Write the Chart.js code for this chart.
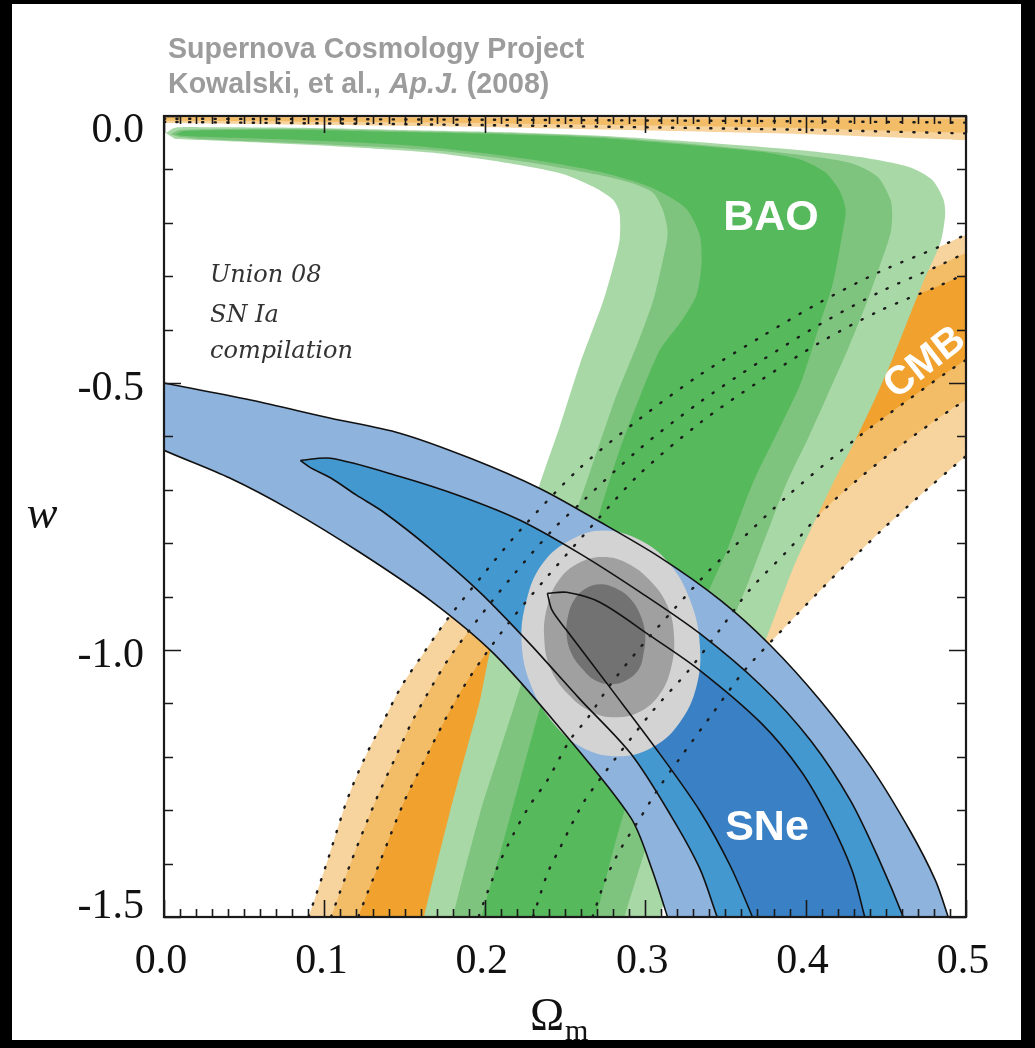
<!DOCTYPE html>
<html>
<head>
<meta charset="utf-8">
<title>Supernova Cosmology Project – Union 08 constraints on w and Ωm</title>
<script src="https://cdn.jsdelivr.net/npm/chart.js@4.4.1/dist/chart.umd.min.js"></script>
<style>
  html, body { margin: 0; padding: 0; background: #000; }
  #paper { position: absolute; left: 12px; top: 4px; width: 1009px; height: 1036px; background: #fff; }
  #chart { position: absolute; left: 0; top: 0; }
</style>
</head>
<body>
<div id="paper"></div>
<canvas id="chart" width="1035" height="1048"></canvas>
<script>
// ---- Axis ticks ----
const xTicks = [0.0, 0.1, 0.2, 0.3, 0.4, 0.5];
const xTickLabels = ['0.0', '0.1', '0.2', '0.3', '0.4', '0.5'];
const yTicks = [0.0, -0.5, -1.0, -1.5];
const yTickLabels = ['0.0', '-0.5', '-1.0', '-1.5'];

// ---- CMB: thin branch along w ~ 0 ----
const cmbTopOuter = [[-0.02,0.02],[0.52,0.02],[0.52,-0.047],[0.5,-0.045],[0.4,-0.034],[0.3,-0.027],[0.2,-0.021],[0.1,-0.017],[0.0,-0.013],[-0.02,-0.012]];
const cmbTopMiddle = [[-0.02,-0.002],[0.1,-0.003],[0.3,-0.005],[0.52,-0.007],[0.52,-0.031],[0.4,-0.023],[0.3,-0.018],[0.2,-0.014],[0.1,-0.011],[0.0,-0.009],[-0.02,-0.008]];
const cmbTopEdgeA = [[0.0,-0.005],[0.2,-0.007],[0.4,-0.010],[0.52,-0.013]];
const cmbTopEdgeB = [[0.0,-0.011],[0.2,-0.017],[0.4,-0.026],[0.52,-0.034]];

// ---- CMB degeneracy band: upper-left edges (99.7%, 95%, 68%) ----
const cmbL3 = [[0.085,-1.544],[0.090,-1.501],[0.102,-1.394],[0.114,-1.282],[0.125,-1.203],[0.137,-1.132],[0.148,-1.068],[0.160,-1.014],[0.176,-0.945],[0.197,-0.866],[0.222,-0.776],[0.259,-0.660],[0.297,-0.566],[0.334,-0.485],[0.372,-0.414],[0.409,-0.349],[0.446,-0.292],[0.484,-0.244],[0.501,-0.221],[0.515,-0.206]];
const cmbL2 = [[0.099,-1.544],[0.104,-1.501],[0.117,-1.394],[0.132,-1.282],[0.144,-1.203],[0.155,-1.132],[0.167,-1.068],[0.178,-1.014],[0.195,-0.945],[0.216,-0.866],[0.242,-0.776],[0.259,-0.727],[0.297,-0.622],[0.334,-0.536],[0.372,-0.459],[0.409,-0.390],[0.446,-0.330],[0.484,-0.279],[0.501,-0.255],[0.515,-0.240]];
const cmbL1 = [[0.117,-1.544],[0.121,-1.501],[0.135,-1.394],[0.150,-1.282],[0.163,-1.203],[0.175,-1.132],[0.187,-1.068],[0.199,-1.014],[0.216,-0.945],[0.238,-0.866],[0.272,-0.750],[0.297,-0.669],[0.334,-0.575],[0.372,-0.495],[0.409,-0.424],[0.446,-0.365],[0.484,-0.317],[0.501,-0.294],[0.515,-0.279]];
// ---- CMB band: lower-right edges (68%, 95%, 99.7%) ----
const cmbR1 = [[0.192,-1.544],[0.196,-1.501],[0.207,-1.413],[0.218,-1.344],[0.228,-1.291],[0.239,-1.244],[0.253,-1.169],[0.264,-1.128],[0.278,-1.066],[0.297,-0.995],[0.319,-0.920],[0.340,-0.851],[0.353,-0.813],[0.390,-0.708],[0.432,-0.603],[0.461,-0.538],[0.490,-0.476],[0.500,-0.457],[0.515,-0.431]];
const cmbR2 = [[0.225,-1.544],[0.230,-1.501],[0.239,-1.419],[0.247,-1.370],[0.261,-1.288],[0.272,-1.241],[0.282,-1.201],[0.305,-1.113],[0.328,-1.035],[0.347,-0.960],[0.365,-0.888],[0.390,-0.810],[0.410,-0.742],[0.432,-0.682],[0.461,-0.613],[0.490,-0.551],[0.500,-0.532],[0.515,-0.506]];
const cmbR3 = [[0.262,-1.544],[0.267,-1.501],[0.275,-1.432],[0.284,-1.376],[0.297,-1.314],[0.309,-1.256],[0.322,-1.201],[0.342,-1.119],[0.362,-1.038],[0.390,-0.948],[0.417,-0.864],[0.434,-0.815],[0.448,-0.774],[0.463,-0.733],[0.478,-0.693],[0.490,-0.662],[0.500,-0.637],[0.515,-0.607]];

// ---- BAO contours (99.7%, 95%, 68%) ----
const baoOuter = [[0.001,-0.032],[0.007,-0.022],[0.022,-0.021],[0.085,-0.022],[0.147,-0.026],[0.210,-0.030],[0.272,-0.037],[0.334,-0.049],[0.397,-0.064],[0.434,-0.077],[0.465,-0.096],[0.479,-0.120],[0.486,-0.157],[0.487,-0.186],[0.484,-0.238],[0.473,-0.313],[0.463,-0.388],[0.453,-0.463],[0.442,-0.538],[0.430,-0.613],[0.417,-0.688],[0.405,-0.763],[0.393,-0.841],[0.381,-0.935],[0.369,-1.029],[0.356,-1.123],[0.344,-1.216],[0.331,-1.310],[0.319,-1.404],[0.309,-1.501],[0.303,-1.582],
  [0.157,-1.582],[0.162,-1.501],[0.178,-1.306],[0.189,-1.183],[0.197,-1.094],[0.203,-1.006],[0.213,-0.907],[0.222,-0.813],[0.234,-0.692],[0.247,-0.579],[0.259,-0.467],[0.274,-0.345],[0.280,-0.283],[0.284,-0.232],[0.284,-0.182],[0.280,-0.157],[0.268,-0.133],[0.247,-0.107],[0.210,-0.086],[0.168,-0.069],[0.147,-0.064],[0.104,-0.056],[0.054,-0.049],[0.007,-0.043]];
const baoMiddle = [[0.004,-0.034],[0.010,-0.026],[0.085,-0.024],[0.147,-0.028],[0.210,-0.032],[0.272,-0.039],[0.334,-0.054],[0.397,-0.073],[0.428,-0.088],[0.445,-0.114],[0.453,-0.157],[0.454,-0.186],[0.453,-0.219],[0.446,-0.283],[0.438,-0.350],[0.426,-0.439],[0.413,-0.527],[0.401,-0.607],[0.388,-0.688],[0.376,-0.781],[0.364,-0.875],[0.351,-0.969],[0.339,-1.063],[0.326,-1.156],[0.314,-1.250],[0.303,-1.347],[0.294,-1.432],[0.287,-1.501],[0.281,-1.582],
  [0.175,-1.582],[0.180,-1.501],[0.197,-1.306],[0.208,-1.201],[0.218,-1.108],[0.226,-1.033],[0.238,-0.926],[0.250,-0.804],[0.266,-0.663],[0.281,-0.532],[0.296,-0.420],[0.305,-0.345],[0.311,-0.270],[0.314,-0.219],[0.311,-0.176],[0.305,-0.144],[0.292,-0.126],[0.272,-0.111],[0.230,-0.088],[0.178,-0.067],[0.147,-0.060],[0.085,-0.051],[0.022,-0.043],[0.009,-0.039]];
const baoInner = [[0.007,-0.034],[0.013,-0.028],[0.085,-0.026],[0.147,-0.030],[0.210,-0.034],[0.272,-0.041],[0.334,-0.056],[0.372,-0.067],[0.397,-0.082],[0.412,-0.105],[0.421,-0.139],[0.425,-0.176],[0.423,-0.219],[0.417,-0.313],[0.409,-0.388],[0.397,-0.500],[0.384,-0.583],[0.367,-0.688],[0.351,-0.813],[0.337,-0.907],[0.325,-1.001],[0.312,-1.094],[0.300,-1.188],[0.289,-1.282],[0.280,-1.376],[0.272,-1.469],[0.269,-1.501],[0.263,-1.582],
  [0.194,-1.582],[0.198,-1.501],[0.210,-1.376],[0.222,-1.244],[0.234,-1.113],[0.247,-0.982],[0.259,-0.860],[0.272,-0.738],[0.284,-0.626],[0.297,-0.523],[0.309,-0.439],[0.323,-0.382],[0.332,-0.335],[0.335,-0.279],[0.334,-0.223],[0.325,-0.172],[0.303,-0.133],[0.272,-0.105],[0.230,-0.082],[0.189,-0.066],[0.147,-0.054],[0.085,-0.045],[0.022,-0.039],[0.011,-0.037]];

// ---- SNe Ia contours: upper (U) and lower (D) edges ----
const sneU3 = [[-0.015,-0.491],[0.000,-0.500],[0.054,-0.532],[0.104,-0.566],[0.147,-0.594],[0.191,-0.641],[0.234,-0.697],[0.270,-0.757],[0.309,-0.826],[0.347,-0.907],[0.378,-0.991],[0.409,-1.094],[0.440,-1.216],[0.465,-1.338],[0.481,-1.432],[0.489,-1.501],[0.496,-1.563]];
const sneD3 = [[-0.015,-0.603],[0.000,-0.626],[0.041,-0.678],[0.079,-0.738],[0.122,-0.817],[0.166,-0.907],[0.205,-1.005],[0.247,-1.147],[0.291,-1.314],[0.304,-1.409],[0.314,-1.501],[0.320,-1.563]];
const sneU2 = [[0.085,-0.645],[0.104,-0.641],[0.147,-0.675],[0.185,-0.712],[0.222,-0.757],[0.259,-0.819],[0.297,-0.892],[0.334,-0.969],[0.372,-1.066],[0.403,-1.169],[0.428,-1.282],[0.446,-1.394],[0.461,-1.501],[0.468,-1.563]];
const sneD2 = [[0.091,-0.658],[0.104,-0.678],[0.120,-0.710],[0.137,-0.742],[0.166,-0.810],[0.197,-0.892],[0.228,-0.988],[0.259,-1.091],[0.291,-1.194],[0.316,-1.310],[0.334,-1.409],[0.345,-1.501],[0.353,-1.563]];
const sneU1 = [[0.239,-0.894],[0.251,-0.892],[0.272,-0.911],[0.303,-0.973],[0.334,-1.038],[0.372,-1.136],[0.397,-1.226],[0.415,-1.319],[0.429,-1.413],[0.437,-1.501],[0.443,-1.563]];
const sneD1 = [[0.242,-0.926],[0.251,-0.963],[0.278,-1.070],[0.309,-1.194],[0.334,-1.301],[0.353,-1.404],[0.367,-1.501],[0.375,-1.563]];

// ---- Combined SNe + BAO + CMB contours ----
const combOuter = [[0.274,-0.776],[0.296,-0.793],[0.315,-0.838],[0.328,-0.907],[0.334,-0.988],[0.332,-1.068],[0.321,-1.138],[0.304,-1.183],[0.283,-1.199],[0.261,-1.183],[0.243,-1.138],[0.229,-1.068],[0.223,-0.988],[0.226,-0.907],[0.236,-0.838],[0.254,-0.793]];
const combMiddle = [[0.274,-0.826],[0.289,-0.838],[0.303,-0.870],[0.314,-0.918],[0.318,-0.976],[0.316,-1.035],[0.309,-1.083],[0.297,-1.115],[0.281,-1.126],[0.266,-1.115],[0.252,-1.083],[0.241,-1.035],[0.237,-0.976],[0.239,-0.918],[0.246,-0.870],[0.258,-0.838]];
const combInner = [[0.272,-0.877],[0.282,-0.885],[0.291,-0.905],[0.297,-0.935],[0.300,-0.971],[0.299,-1.006],[0.296,-1.036],[0.288,-1.057],[0.279,-1.064],[0.269,-1.057],[0.261,-1.036],[0.254,-1.006],[0.251,-0.971],[0.252,-0.935],[0.256,-0.905],[0.263,-0.885]];

// ---- helpers to turn the lists into Chart.js datasets ----
const pts = a => a.map(p => ({x: p[0], y: p[1]}));
const band = (upper, lower) => upper.concat(lower.slice().reverse());
const ring = a => a.concat(a.slice(0, 3));

function area(points, color, tension) {
  return { data: pts(points), showLine: true, fill: 'shape', backgroundColor: color,
           borderWidth: 0, borderColor: 'rgba(0,0,0,0)', pointRadius: 0, tension: tension, clip: 0 };
}
function solid(points) {
  return { data: pts(points), showLine: true, fill: false, borderColor: '#111', borderWidth: 1.6,
           pointRadius: 0, tension: 0.3, clip: 0 };
}
function dotted(points) {
  return { data: pts(points), showLine: true, fill: false, borderColor: '#1c1c1c', borderWidth: 2.4,
           borderDash: [1.2, 11.5], borderCapStyle: 'round', pointRadius: 0, tension: 0.3, clip: 0 };
}

const layers = [
  area(cmbTopOuter, '#F7D39E', 0.2),
  area(cmbTopMiddle, '#F3BC67', 0.2),
  area(band(cmbL3, cmbR3), '#F7D39E', 0.3),
  area(band(cmbL2, cmbR2), '#F3BC67', 0.3),
  area(band(cmbL1, cmbR1), '#F0A12E', 0.3),
  area(baoOuter, '#A9D8A7', 0.25),
  area(baoMiddle, '#7EC47E', 0.25),
  area(baoInner, '#56B95C', 0.25),
  area(band(sneU3, sneD3), '#8EB3DD', 0.3),
  area(band(sneU2, sneD2), '#4498D0', 0.3),
  area(band(sneU1, sneD1), '#3A80C5', 0.3),
  area(ring(combOuter), '#D3D3D3', 0.4),
  area(ring(combMiddle), '#A0A0A0', 0.4),
  area(ring(combInner), '#727272', 0.4),
  solid(sneU3), solid(sneD3),
  solid(band(sneU2, sneD2).concat([sneU2[0]])),
  solid(band(sneU1, sneD1).concat([sneU1[0]])),
  dotted(cmbL3), dotted(cmbL2), dotted(cmbL1),
  dotted(cmbR1), dotted(cmbR2), dotted(cmbR3),
  dotted(cmbTopEdgeA), dotted(cmbTopEdgeB)
];
// later layers are drawn on top
layers.forEach((d, i) => { d.order = layers.length - i; });

const SERIF = '"Liberation Serif", "Times New Roman", serif';
const SANS = '"Liberation Sans", Arial, sans-serif';

const decorations = {
  id: 'decorations',
  afterDraw(chart) {
    const {ctx, chartArea: a, scales: {x, y}} = chart;
    ctx.save();

    // inward ticks on all four sides
    ctx.strokeStyle = '#1a1a1a';
    ctx.lineWidth = 1.6;
    ctx.beginPath();
    for (let i = 0; i <= 50; i++) {
      const px = Math.round(x.getPixelForValue(i / 100)) + 0.5;
      const len = i % 10 === 0 ? 17 : 8;
      ctx.moveTo(px, a.bottom); ctx.lineTo(px, a.bottom - len);
      ctx.moveTo(px, a.top); ctx.lineTo(px, a.top + len);
    }
    for (let i = 0; i <= 15; i++) {
      const py = Math.round(y.getPixelForValue(-i / 10)) + 0.5;
      const len = i % 5 === 0 ? 17 : 9;
      ctx.moveTo(a.left, py); ctx.lineTo(a.left + len, py);
      ctx.moveTo(a.right, py); ctx.lineTo(a.right - len, py);
    }
    ctx.stroke();
    ctx.lineWidth = 2.2;
    ctx.strokeRect(a.left, a.top, a.right - a.left, a.bottom - a.top);

    // tick labels
    ctx.fillStyle = '#111';
    ctx.font = '42px ' + SERIF;
    ctx.textBaseline = 'alphabetic';
    ctx.textAlign = 'right';
    yTicks.forEach((v, i) => {
      let cy = y.getPixelForValue(v) + 3;
      cy = Math.min(Math.max(cy, a.top + 12), a.bottom - 13);
      ctx.fillText(yTickLabels[i], 144, cy + 14);
    });
    ctx.textAlign = 'center';
    xTicks.forEach((v, i) => {
      ctx.fillText(xTickLabels[i], x.getPixelForValue(v) - 3, 973);
    });

    // axis titles
    ctx.font = 'italic 46px ' + SERIF;
    ctx.fillText('w', 42, 528);
    ctx.font = '46px ' + SERIF;
    ctx.textAlign = 'left';
    ctx.fillText('Ω', 530, 1030);
    ctx.font = '30px ' + SERIF;
    ctx.fillText('m', 565, 1040);

    // header
    ctx.fillStyle = '#9c9c9c';
    ctx.font = 'bold 28.6px ' + SANS;
    ctx.fillText('Supernova Cosmology Project', 168, 58);
    let cx = 168;
    const part = (txt, font) => { ctx.font = font; ctx.fillText(txt, cx, 93); cx += ctx.measureText(txt).width; };
    part('Kowalski, et al., ', 'bold 28.6px ' + SANS);
    part('Ap.J.', 'italic bold 28.6px ' + SANS);
    part(' (2008)', 'bold 28.6px ' + SANS);

    // data-set captions
    ctx.fillStyle = '#fff';
    ctx.font = 'bold 43px ' + SANS;
    ctx.textAlign = 'center';
    ctx.textBaseline = 'middle';
    ctx.fillText('BAO', 771, 218);
    ctx.fillText('SNe', 767, 828);
    ctx.save();
    ctx.translate(925, 363);
    ctx.rotate(-38 * Math.PI / 180);
    ctx.font = 'bold 40px ' + SANS;
    ctx.fillText('CMB', 0, 0);
    ctx.restore();

    ctx.fillStyle = '#333';
    ctx.font = 'italic 24px "DejaVu Serif", serif';
    ctx.textAlign = 'left';
    ctx.textBaseline = 'alphabetic';
    ctx.fillText('Union 08', 210, 282);
    ctx.fillText('SN Ia', 210, 322);
    ctx.fillText('compilation', 210, 358);
    ctx.restore();
  }
};

new Chart(document.getElementById('chart'), {
  type: 'scatter',
  data: { datasets: layers },
  options: {
    responsive: false,
    animation: false,
    events: [],
    layout: { padding: { left: 164, right: 69, top: 116, bottom: 131 } },
    scales: {
      x: { type: 'linear', min: 0, max: 0.5, display: false },
      y: { type: 'linear', min: -1.5, max: 0, display: false }
    },
    elements: { point: { radius: 0 }, line: { capBezierPoints: false } },
    plugins: { legend: { display: false }, tooltip: { enabled: false } }
  },
  plugins: [decorations]
});
</script>
</body>
</html>
